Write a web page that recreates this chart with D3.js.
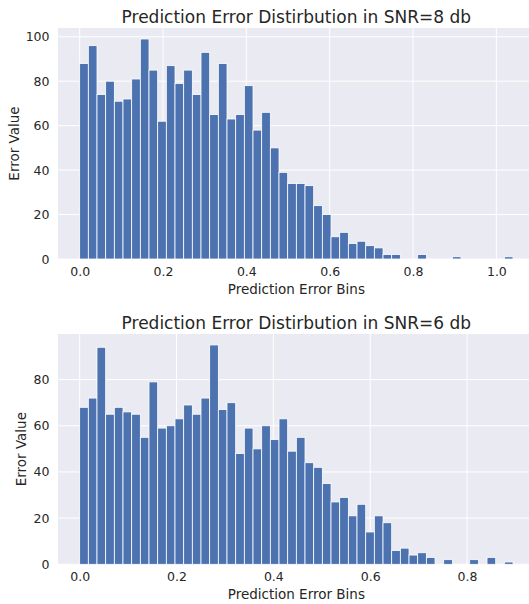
<!DOCTYPE html>
<html>
<head>
<meta charset="utf-8">
<script src="https://cdn.jsdelivr.net/npm/d3@7"></script>
<style>
  html, body { margin: 0; padding: 0; background: #fff; }
  svg { display: block; }
  text { font-family: "DejaVu Sans", sans-serif; fill: #262626; }
</style>
</head>
<body>
<svg id="chart" width="529" height="604"></svg>
<script>
// ---- Data ----
const titles = ["Prediction Error Distirbution in SNR=8 db", "Prediction Error Distirbution in SNR=6 db"];
const xLabel = "Prediction Error Bins";
const yLabel = "Error Value";

// SNR = 8 db : 50 bins from 0 to ~1.04
const snr8BinMax = 1.04;
const snr8Counts = [88,96,74,80,71,72,81,99,85,62,87,79,85,74,93,65,88,63,65,78,58,66,50,39,34,
                    34,33,24,20,10,12,7,8,6,5,2,2,0,0,2,0,0,0,1,0,0,0,0,0,1];
const snr8XTicks = [0.0, 0.2, 0.4, 0.6, 0.8, 1.0];
const snr8YTicks = [0, 20, 40, 60, 80, 100];

// SNR = 6 db : 50 bins from 0 to ~0.895
const snr6BinMax = 0.895;
const snr6Counts = [68,72,94,65,68,66,65,55,79,59,60,63,69,65,72,95,67,70,48,59,50,60,54,63,49,
                    55,44,42,35,27,29,21,26,14,21,18,6,7,4,5,3,0,2,0,0,2,0,3,0,1];
const snr6XTicks = [0.0, 0.2, 0.4, 0.6, 0.8];
const snr6YTicks = [0, 20, 40, 60, 80];

// ---- Drawing ----
const svg = d3.select("#chart");
const panels = [
  { title: titles[0], binMax: snr8BinMax, counts: snr8Counts, xTicks: snr8XTicks, yTicks: snr8YTicks,
    left: 58, right: 534.7, top: 28, bottom: 259, yLabelX: 14 },
  { title: titles[1], binMax: snr6BinMax, counts: snr6Counts, xTicks: snr6XTicks, yTicks: snr6YTicks,
    left: 58, right: 534.7, top: 334, bottom: 564.3, yLabelX: 21.5 }
];

panels.forEach(p => {
  const n = p.counts.length;
  const bw = p.binMax / n;
  const bins = p.counts.map((c, i) => ({ x0: i * bw, x1: (i + 1) * bw, c }));
  const x = d3.scaleLinear().domain([-0.05 * p.binMax, 1.05 * p.binMax]).range([p.left, p.right]);
  const y = d3.scaleLinear().domain([0, 1.05 * d3.max(p.counts)]).range([p.bottom, p.top]);

  const g = svg.append("g");
  g.append("rect").attr("x", p.left).attr("y", p.top)
    .attr("width", p.right - p.left).attr("height", p.bottom - p.top).attr("fill", "#EAEAF2");

  // grid
  g.append("g").selectAll("line").data(p.xTicks).join("line")
    .attr("x1", d => x(d)).attr("x2", d => x(d)).attr("y1", p.top).attr("y2", p.bottom)
    .attr("stroke", "#fff").attr("stroke-width", 1);
  g.append("g").selectAll("line").data(p.yTicks).join("line")
    .attr("x1", p.left).attr("x2", p.right).attr("y1", d => y(d)).attr("y2", d => y(d))
    .attr("stroke", "#fff").attr("stroke-width", 1);

  // bars
  g.append("g").selectAll("rect").data(bins.filter(b => b.c > 0)).join("rect")
    .attr("x", d => x(d.x0)).attr("width", d => x(d.x1) - x(d.x0))
    .attr("y", d => y(d.c)).attr("height", d => y(0) - y(d.c))
    .attr("fill", "#4C72B0").attr("stroke", "#fff").attr("stroke-width", 0.8);

  // axes
  const xAxis = g.append("g").attr("transform", `translate(0,${p.bottom})`)
    .call(d3.axisBottom(x).tickValues(p.xTicks).tickFormat(d3.format(".1f")).tickSize(0).tickPadding(8));
  xAxis.select(".domain").remove();
  xAxis.selectAll("text").style("font-size", "12.5px").style("font-family", "DejaVu Sans").attr("fill", "#262626");

  const yAxis = g.append("g").attr("transform", `translate(${p.left},0)`)
    .call(d3.axisLeft(y).tickValues(p.yTicks).tickFormat(d3.format("d")).tickSize(0).tickPadding(8.5));
  yAxis.select(".domain").remove();
  yAxis.selectAll("text").style("font-size", "12.5px").style("font-family", "DejaVu Sans").attr("fill", "#262626");

  // labels
  g.append("text").attr("x", (p.left + p.right) / 2).attr("y", p.bottom + 34.5)
    .attr("text-anchor", "middle").style("font-size", "13.5px").text(xLabel);
  g.append("text").attr("transform", `translate(${p.yLabelX},${(p.top + p.bottom) / 2}) rotate(-90)`)
    .attr("text-anchor", "middle").attr("dy", "0.35em").style("font-size", "13.5px").text(yLabel);
  g.append("text").attr("x", (p.left + p.right) / 2).attr("y", p.top - 5.5)
    .attr("text-anchor", "middle").style("font-size", "17px").text(p.title);
});
</script>
</body>
</html>
